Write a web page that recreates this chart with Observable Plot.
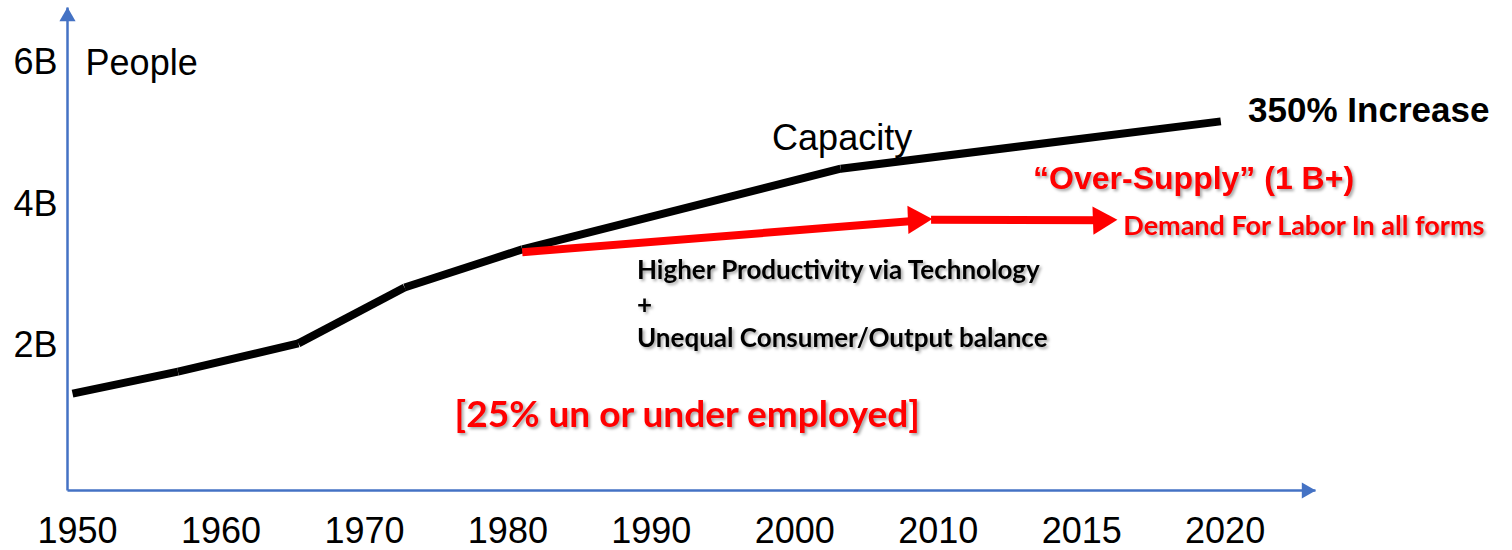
<!DOCTYPE html>
<html><head><meta charset="utf-8">
<script src="https://cdn.jsdelivr.net/npm/d3@7"></script>
<script src="https://cdn.jsdelivr.net/npm/@observablehq/plot@0.6"></script>
<style>
body{margin:0;background:#fff;}
</style></head><body><div id="chart"></div>
<script>
// ---- data ----
const xTickLabels = ["1950","1960","1970","1980","1990","2000","2010","2015","2020"];
const yTickValues = [2, 4, 6];
const yTickLabels = ["2B", "4B", "6B"];
// Capacity polyline: x = position on the tick index axis, y = billions of people
const capacityX = [-0.035, 0.70, 1.54, 2.28, 3.10, 5.32, 7.97];
const capacityY = [1.32, 1.63, 2.03, 2.82, 3.36, 4.50, 5.17];
// Demand for labour (red arrows)
const demandX = [3.10, 5.95, 7.24];
const demandY = [3.32, 3.78, 3.77];
// Annotations
const annotationText = ["People", "Capacity", "350% Increase", "\u201cOver-Supply\u201d (1 B+)",
  "Demand For Labor In all forms", "Higher Productivity via Technology", "+",
  "Unequal Consumer/Output balance", "[25% un or under employed]"];
const annotationX = [0.056, 5.33, 8.16, 7.78, 7.29, 3.90, 3.90, 3.90, 4.25];
const annotationY = [5.99, 4.93, 5.32, 4.36, 3.68, 3.06, 2.56, 2.10, 1.01];

// ---- build ----
const xDomain = [-0.07, 8.63];
const yDomain = [-0.05, 6.78];
const blue = "#4472C4", red = "#ff0000";
const segs = (xs, ys) => xs.slice(1).map((x, i) => ({x1: xs[i], y1: ys[i], x2: x, y2: ys[i + 1]}));
const capSegs = segs(capacityX, capacityY);
const demSegs = segs(demandX, demandY);
const demHeads = demSegs.map(s => ({x: s.x2, y: s.y2}));
const annos = annotationText.map((t, i) => ({text: t, x: annotationX[i], y: annotationY[i]}));

const arial = "Liberation Sans, Arial, sans-serif";
const calibri = "Lato, Carlito, sans-serif";
const annoStyle = [
  {fontSize: 36, fontFamily: arial, fill: "#000", textAnchor: "start"},
  {fontSize: 36, fontFamily: arial, fill: "#000", textAnchor: "middle"},
  {fontSize: 35, fontFamily: arial, fill: "#000", textAnchor: "start", fontWeight: "bold"},
  {fontSize: 32, fontFamily: arial, fill: red, textAnchor: "middle", fontWeight: "bold", shadow: true},
  {fontSize: 27, fontFamily: calibri, fill: red, textAnchor: "start", fontWeight: "bold", shadow: true},
  {fontSize: 26, fontFamily: calibri, fill: "#000", textAnchor: "start", fontWeight: "bold", shadow: true},
  {fontSize: 26, fontFamily: calibri, fill: "#000", textAnchor: "start", fontWeight: "bold", shadow: true},
  {fontSize: 26, fontFamily: calibri, fill: "#000", textAnchor: "start", fontWeight: "bold", shadow: true},
  {fontSize: 37, fontFamily: calibri, fill: red, textAnchor: "middle", fontWeight: "bold", shadow: true}
];

const chart = Plot.plot({
  width: 1512, height: 550,
  marginLeft: 67, marginRight: 197, marginTop: 7, marginBottom: 60,
  x: {domain: xDomain, label: null},
  y: {domain: yDomain, label: null},
  style: {fontFamily: arial, background: "#fff", color: "#000", overflow: "visible"},
  marks: [
    Plot.axisX(d3.range(xTickLabels.length), {tickFormat: i => xTickLabels[i], tickSize: 0, tickPadding: 27, fontSize: 36, label: null}),
    Plot.axisY(yTickValues, {tickFormat: v => yTickLabels[yTickValues.indexOf(v)], tickSize: 0, tickPadding: 10, fontSize: 36, label: null}),
    // axis lines with arrow heads
    Plot.link([{x1: xDomain[0], y1: yDomain[0], x2: xDomain[1], y2: yDomain[0]}], {x1: "x1", y1: "y1", x2: "x2", y2: "y2", stroke: blue, strokeWidth: 2.5}),
    Plot.link([{x1: xDomain[0], y1: yDomain[0], x2: xDomain[0], y2: yDomain[1]}], {x1: "x1", y1: "y1", x2: "x2", y2: "y2", stroke: blue, strokeWidth: 2.5}),
    Plot.dot([{x: xDomain[1], y: yDomain[0]}], {x: "x", y: "y", symbol: "triangle", r: 6, fill: blue, stroke: null, rotate: 90, dx: -9}),
    Plot.dot([{x: xDomain[0], y: yDomain[1]}], {x: "x", y: "y", symbol: "triangle", r: 6, fill: blue, stroke: null, rotate: 0, dy: 9}),
    // capacity
    Plot.link(capSegs, {x1: "x1", y1: "y1", x2: "x2", y2: "y2", stroke: "#000", strokeWidth: 8, strokeLinecap: "butt"}),
    // demand arrows
    Plot.arrow(demSegs, {x1: "x1", y1: "y1", x2: "x2", y2: "y2", stroke: red, strokeWidth: 8, headLength: 0, insetEnd: 12, strokeLinecap: "butt", strokeLinejoin: "miter"}),
    Plot.dot(demHeads, {x: "x", y: "y", symbol: "triangle", r: 10.5, fill: red, stroke: null, rotate: 88, dx: -15}),
    // annotations
    ...annos.map((a, i) => {
      const {shadow, ...s} = annoStyle[i];
      return Plot.text([a], {x: "x", y: "y", text: "text", lineAnchor: "middle", ...s});
    })
  ]
});
const shadowSet = new Set(annotationText.filter((t, i) => annoStyle[i].shadow));
d3.select(chart).selectAll("text").each(function() {
  if (shadowSet.has(this.textContent)) this.style.filter = "drop-shadow(2px 2px 1.5px rgba(0,0,0,0.35))";
});
document.getElementById("chart").appendChild(chart);
</script>
</body></html>
